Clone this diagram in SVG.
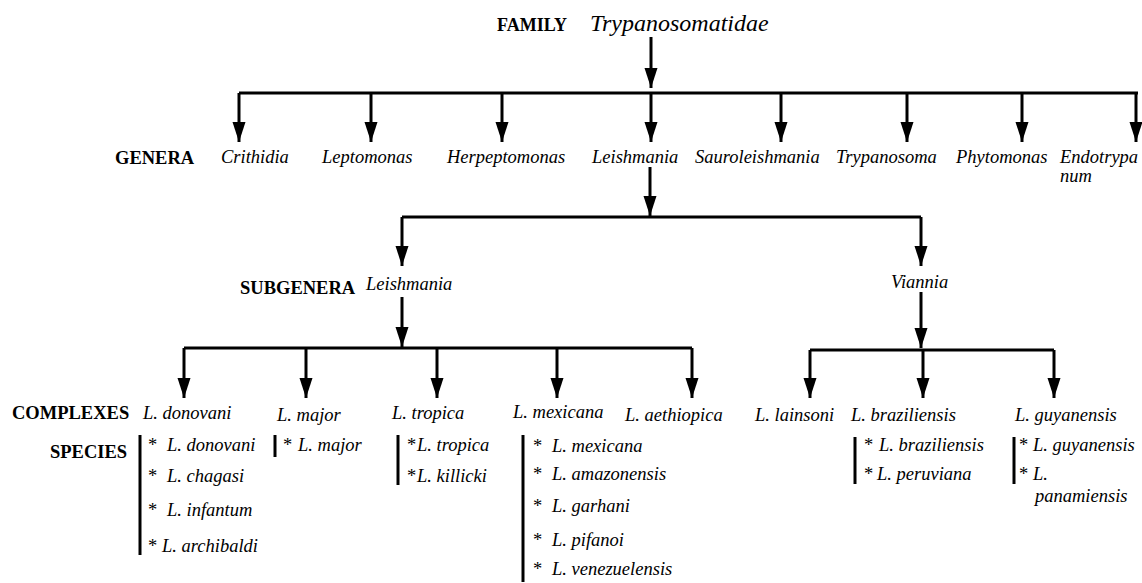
<svg xmlns="http://www.w3.org/2000/svg" width="1142" height="583" viewBox="0 0 1142 583" font-family="'Liberation Serif', 'DejaVu Serif', serif">
<defs>
<marker id="ah" markerUnits="userSpaceOnUse" markerWidth="22" markerHeight="14" refX="20" refY="6.5" orient="auto">
<path d="M0,0 L20,6.5 L0,13 z" fill="#000"/>
</marker>
<style>
text{font-family:'Liberation Serif','DejaVu Serif',serif;fill:#000}
.lv{font-weight:bold;font-size:18.5px}
.it{font-style:italic;font-size:18.5px}
.big{font-style:italic;font-size:24px}
.st{font-size:18.5px}
.ln{stroke:#000;stroke-width:3;fill:none}
.ar{stroke:#000;stroke-width:3;fill:none;marker-end:url(#ah)}
.bar{stroke:#000;stroke-width:3}
</style>
</defs>
<rect width="1142" height="583" fill="#fff"/>
<g id="connectors">
<line class="ar" x1="651" y1="37" x2="651" y2="88"/>
<line class="ln" x1="239" y1="93" x2="1138" y2="93"/>
<line class="ar" x1="239" y1="93" x2="239" y2="142"/>
<line class="ar" x1="371" y1="93" x2="371" y2="142"/>
<line class="ar" x1="502" y1="93" x2="502" y2="142"/>
<line class="ar" x1="651" y1="93" x2="651" y2="142"/>
<line class="ar" x1="781" y1="93" x2="781" y2="142"/>
<line class="ar" x1="907" y1="93" x2="907" y2="142"/>
<line class="ar" x1="1022" y1="93" x2="1022" y2="142"/>
<line class="ar" x1="1136" y1="93" x2="1136" y2="142"/>
<line class="ar" x1="650" y1="167" x2="650" y2="216"/>
<line class="ln" x1="402" y1="217" x2="921" y2="217"/>
<line class="ar" x1="402" y1="217" x2="402" y2="266"/>
<line class="ar" x1="921" y1="217" x2="921" y2="266"/>
<line class="ar" x1="402" y1="297" x2="402" y2="347"/>
<line class="ln" x1="184" y1="348" x2="692" y2="348"/>
<line class="ar" x1="184" y1="348" x2="184" y2="398"/>
<line class="ar" x1="306" y1="348" x2="306" y2="398"/>
<line class="ar" x1="437" y1="348" x2="437" y2="398"/>
<line class="ar" x1="557" y1="348" x2="557" y2="398"/>
<line class="ar" x1="692" y1="348" x2="692" y2="398"/>
<line class="ar" x1="921" y1="292" x2="921" y2="348"/>
<line class="ln" x1="810" y1="350" x2="1054" y2="350"/>
<line class="ar" x1="810" y1="350" x2="810" y2="398"/>
<line class="ar" x1="923" y1="350" x2="923" y2="398"/>
<line class="ar" x1="1054" y1="350" x2="1054" y2="398"/>
</g>
<g id="levels">
<text class="lv" x="497" y="31" style="font-size:18px">FAMILY</text>
<text class="lv" x="115" y="164">GENERA</text>
<text class="lv" x="240" y="294">SUBGENERA</text>
<text class="lv" x="12" y="419">COMPLEXES</text>
<text class="lv" x="50" y="458">SPECIES</text>
</g>
<g id="family"><text class="big" x="590" y="31">Trypanosomatidae</text></g>
<g id="genera">
<text class="it" x="221" y="163">Crithidia</text>
<text class="it" x="322" y="163">Leptomonas</text>
<text class="it" x="447" y="163">Herpeptomonas</text>
<text class="it" x="592" y="163">Leishmania</text>
<text class="it" x="695" y="163">Sauroleishmania</text>
<text class="it" x="836" y="163">Trypanosoma</text>
<text class="it" x="956" y="163">Phytomonas</text>
<text class="it" x="1060" y="163">Endotrypa</text>
<text class="it" x="1060" y="182">num</text>
</g>
<g id="subgenus-leishmania"><text class="it" x="366" y="290">Leishmania</text></g>
<g id="subgenus-viannia"><text class="it" x="891" y="288">Viannia</text></g>
<g id="complex-donovani">
<text class="it" x="143" y="419">L. donovani</text>
<line class="bar" x1="140" y1="435" x2="140" y2="555"/>
<text class="st" x="148" y="451">*</text><text class="it" x="167" y="451">L. donovani</text>
<text class="st" x="148" y="482">*</text><text class="it" x="167" y="482">L. chagasi</text>
<text class="st" x="148" y="516">*</text><text class="it" x="167" y="516">L. infantum</text>
<text class="st" x="148" y="552">*</text><text class="it" x="162" y="552">L. archibaldi</text>
</g>
<g id="complex-major">
<text class="it" x="277" y="421">L. major</text>
<line class="bar" x1="275" y1="435" x2="275" y2="457"/>
<text class="st" x="283" y="451">*</text><text class="it" x="298" y="451">L. major</text>
</g>
<g id="complex-tropica">
<text class="it" x="392" y="419">L. tropica</text>
<line class="bar" x1="398" y1="435" x2="398" y2="485"/>
<text class="st" x="407" y="451">*</text><text class="it" x="417" y="451">L. tropica</text>
<text class="st" x="407" y="482">*</text><text class="it" x="417" y="482">L. killicki</text>
</g>
<g id="complex-mexicana">
<text class="it" x="513" y="418">L. mexicana</text>
<line class="bar" x1="523" y1="435" x2="523" y2="582"/>
<text class="st" x="533" y="452">*</text><text class="it" x="552" y="452">L. mexicana</text>
<text class="st" x="533" y="480">*</text><text class="it" x="552" y="480">L. amazonensis</text>
<text class="st" x="533" y="512">*</text><text class="it" x="552" y="512">L. garhani</text>
<text class="st" x="533" y="546">*</text><text class="it" x="552" y="546">L. pifanoi</text>
<text class="st" x="533" y="575">*</text><text class="it" x="552" y="575">L. venezuelensis</text>
</g>
<g id="complex-aethiopica"><text class="it" x="625" y="421">L. aethiopica</text></g>
<g id="complex-lainsoni"><text class="it" x="755" y="421">L. lainsoni</text></g>
<g id="complex-braziliensis">
<text class="it" x="851" y="421">L. braziliensis</text>
<line class="bar" x1="855" y1="437" x2="855" y2="484"/>
<text class="st" x="864" y="451">*</text><text class="it" x="879" y="451">L. braziliensis</text>
<text class="st" x="864" y="480">*</text><text class="it" x="877" y="480">L. peruviana</text>
</g>
<g id="complex-guyanensis">
<text class="it" x="1015" y="421">L. guyanensis</text>
<line class="bar" x1="1014" y1="437" x2="1014" y2="484"/>
<text class="st" x="1019" y="451">*</text><text class="it" x="1033" y="451">L. guyanensis</text>
<text class="st" x="1019" y="480">*</text><text class="it" x="1033" y="480">L.</text>
<text class="it" x="1035" y="502">panamiensis</text>
</g>
</svg>
